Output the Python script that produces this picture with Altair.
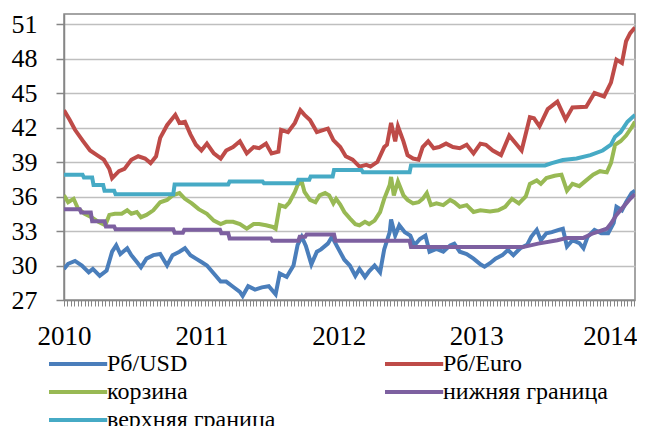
import altair as alt
import pandas as pd

# ---- data ----
series_names = ["Рб/USD", "Рб/Euro", "корзина", "нижняя граница", "верхняя граница"]
series_colors = ["#4A7EBB", "#BE4B48", "#98B954", "#7D60A0", "#46AAC5"]
# legend is filled column by column: this order gives the reference's row layout
legend_order = ["Рб/USD", "корзина", "верхняя граница", "Рб/Euro", "нижняя граница"]

year_labels = [2010, 2011, 2012, 2013, 2014]
y_ticks = [27, 30, 33, 36, 39, 42, 45, 48, 51]

usd_t = [2010.00, 2010.03, 2010.08, 2010.13, 2010.18, 2010.21, 2010.26, 2010.31, 2010.35, 2010.38,
         2010.41, 2010.46, 2010.49, 2010.53, 2010.56, 2010.60, 2010.65, 2010.70, 2010.75, 2010.79,
         2010.84, 2010.88, 2010.92, 2010.96, 2011.00, 2011.04, 2011.09, 2011.14, 2011.18, 2011.23,
         2011.28, 2011.30, 2011.34, 2011.39, 2011.44, 2011.49, 2011.54, 2011.57, 2011.62, 2011.67,
         2011.70, 2011.73, 2011.76, 2011.80, 2011.84, 2011.87, 2011.92, 2011.95, 2011.99, 2012.04,
         2012.08, 2012.12, 2012.15, 2012.19, 2012.22, 2012.26, 2012.30, 2012.33, 2012.37, 2012.38,
         2012.41, 2012.44, 2012.48, 2012.52, 2012.55, 2012.59, 2012.63, 2012.66, 2012.71, 2012.76,
         2012.81, 2012.84, 2012.88, 2012.93, 2012.98, 2013.03, 2013.06, 2013.10, 2013.14, 2013.19,
         2013.23, 2013.27, 2013.32, 2013.37, 2013.40, 2013.44, 2013.47, 2013.51, 2013.55, 2013.60,
         2013.63, 2013.66, 2013.70, 2013.75, 2013.78, 2013.81, 2013.86, 2013.91, 2013.96, 2014.00,
         2014.02, 2014.06, 2014.09, 2014.13, 2014.155]
usd_v = [29.7, 30.15, 30.4, 30.0, 29.4, 29.7, 29.1, 29.55, 31.2, 31.75,
         31.0, 31.5, 30.9, 30.3, 29.85, 30.6, 30.9, 31.0, 30.0, 30.9,
         31.2, 31.5, 30.9, 30.6, 30.3, 30.0, 29.3, 28.6, 28.6, 28.15,
         27.7, 27.35, 28.2, 27.9, 28.1, 28.2, 27.5, 29.3, 29.0, 30.0,
         31.8, 32.5, 31.7, 30.1, 31.2, 31.4, 31.9, 32.5, 31.6, 30.5,
         30.0, 29.1, 29.7, 29.0, 29.5, 30.0, 29.4, 31.4, 32.9, 34.0,
         32.6, 33.5, 32.9, 32.6, 31.75, 32.3, 32.6, 31.2, 31.45, 31.2,
         31.75, 31.9, 31.2, 31.0, 30.6, 30.1, 29.9, 30.2, 30.6, 30.9,
         31.35, 30.9, 31.5, 31.8, 32.5, 33.1, 32.2, 32.8, 32.9, 33.1,
         33.2, 31.65, 32.2, 31.95, 31.5, 32.5, 33.1, 32.8, 32.8, 33.7,
         35.1, 34.8, 35.5, 36.3, 36.5]

eur_t = [2010.00, 2010.04, 2010.08, 2010.14, 2010.19, 2010.24, 2010.29, 2010.33, 2010.35, 2010.40,
         2010.44, 2010.49, 2010.54, 2010.59, 2010.63, 2010.67, 2010.70, 2010.75, 2010.81, 2010.84,
         2010.88, 2010.92, 2010.96, 2011.00, 2011.04, 2011.09, 2011.14, 2011.18, 2011.23, 2011.28,
         2011.33, 2011.38, 2011.42, 2011.47, 2011.51, 2011.56, 2011.58, 2011.63, 2011.68, 2011.72,
         2011.75, 2011.79, 2011.84, 2011.89, 2011.92, 2011.96, 2012.01, 2012.05, 2012.10, 2012.15,
         2012.20, 2012.23, 2012.28, 2012.33, 2012.35, 2012.38, 2012.41, 2012.43, 2012.47, 2012.50,
         2012.54, 2012.58, 2012.61, 2012.65, 2012.69, 2012.73, 2012.78, 2012.83, 2012.88, 2012.93,
         2012.98, 2013.03, 2013.07, 2013.12, 2013.18, 2013.24, 2013.33, 2013.39, 2013.42, 2013.46,
         2013.52, 2013.59, 2013.65, 2013.70, 2013.80, 2013.86, 2013.93, 2013.98, 2014.02, 2014.06,
         2014.09, 2014.12, 2014.155]
eur_v = [43.5, 42.7, 41.8, 40.8, 40.0, 39.6, 39.2, 38.4, 37.6, 38.2,
         38.4, 39.2, 39.5, 39.3, 38.9, 39.5, 41.1, 42.2, 43.1, 42.4,
         42.5, 41.4, 40.5, 40.0, 40.6, 39.75, 39.3, 40.0, 40.3, 40.8,
         39.75, 40.3, 40.2, 40.6, 39.75, 39.9, 41.8, 41.6, 42.4, 43.5,
         43.1, 42.65, 41.6, 41.8, 41.9, 40.9, 40.3, 39.5, 39.2, 38.6,
         38.75, 38.6, 39.0, 40.3, 40.5, 42.4, 40.8, 42.1, 40.8, 39.6,
         39.3, 39.2, 40.3, 40.8, 40.2, 40.3, 40.6, 40.3, 40.2, 40.5,
         39.75, 40.6, 40.5, 40.0, 39.6, 41.3, 40.0, 42.9, 42.8, 42.1,
         43.6, 44.25, 42.7, 43.75, 43.8, 45.0, 44.7, 45.9, 47.9, 47.6,
         49.5, 50.2, 50.7]

bsk_t = [2010.00, 2010.03, 2010.07, 2010.10, 2010.15, 2010.20, 2010.25, 2010.30, 2010.33, 2010.37,
         2010.42, 2010.46, 2010.49, 2010.53, 2010.56, 2010.60, 2010.65, 2010.70, 2010.75, 2010.79,
         2010.84, 2010.88, 2010.93, 2010.98, 2011.04, 2011.09, 2011.14, 2011.18, 2011.23, 2011.28,
         2011.33, 2011.38, 2011.42, 2011.47, 2011.52, 2011.54, 2011.57, 2011.61, 2011.64, 2011.68,
         2011.70, 2011.73, 2011.75, 2011.79, 2011.83, 2011.86, 2011.90, 2011.93, 2011.96, 2011.98,
         2012.01, 2012.04, 2012.08, 2012.12, 2012.15, 2012.19, 2012.22, 2012.26, 2012.30, 2012.33,
         2012.37, 2012.38, 2012.40, 2012.43, 2012.47, 2012.50, 2012.54, 2012.58, 2012.61, 2012.64,
         2012.67, 2012.71, 2012.76, 2012.81, 2012.84, 2012.88, 2012.93, 2012.98, 2013.03, 2013.10,
         2013.16, 2013.21, 2013.26, 2013.31, 2013.36, 2013.39, 2013.44, 2013.47, 2013.51, 2013.57,
         2013.62, 2013.66, 2013.70, 2013.75, 2013.80, 2013.85, 2013.90, 2013.95, 2013.98, 2014.01,
         2014.05, 2014.09, 2014.13, 2014.155]
bsk_v = [36.1, 35.5, 35.8, 35.0, 34.5, 34.2, 33.8, 33.5, 34.4, 34.5,
         34.5, 34.8, 34.5, 34.65, 34.2, 34.4, 34.8, 35.5, 35.7, 36.1,
         36.3, 35.8, 35.4, 34.9, 34.5, 33.9, 33.6, 33.8, 33.8, 33.6,
         33.2, 33.6, 33.6, 33.5, 33.35, 33.2, 35.25, 35.1, 35.5, 36.4,
         37.0, 37.3, 36.4, 35.7, 35.5, 36.1, 36.3, 36.1, 35.4, 35.8,
         35.3, 34.65, 34.1, 33.6, 33.5, 33.8, 33.6, 33.9, 34.65, 35.8,
         37.0, 37.7, 36.1, 37.3, 36.1, 35.7, 35.4, 35.5, 35.8, 36.3,
         35.25, 35.4, 35.25, 35.7, 35.5, 35.1, 35.25, 34.65, 34.8, 34.7,
         34.8, 35.1, 35.8, 35.4, 36.0, 37.1, 37.4, 37.1, 37.6, 37.8,
         37.9, 36.5, 37.1, 36.9, 37.4, 37.9, 38.2, 38.1, 38.9, 40.5,
         40.8, 41.3, 42.0, 42.5]

low_t = [2010.00, 2010.115, 2010.125, 2010.195, 2010.205, 2010.295, 2010.305, 2010.365, 2010.375, 2010.795,
         2010.805, 2010.865, 2010.875, 2011.135, 2011.145, 2011.195, 2011.205, 2011.505, 2011.515, 2011.705,
         2011.715, 2011.755, 2011.765, 2011.965, 2011.975, 2012.515, 2012.525, 2013.34, 2013.45, 2013.59,
         2013.66, 2013.78, 2013.85, 2013.95, 2013.98, 2014.02, 2014.07, 2014.12, 2014.155]
low_v = [34.9, 34.9, 34.6, 34.6, 33.85, 33.85, 33.4, 33.4, 33.15, 33.15,
         32.85, 32.85, 33.1, 33.1, 32.8, 32.8, 32.35, 32.35, 32.15, 32.15,
         32.5, 32.5, 32.7, 32.7, 32.15, 32.15, 31.6, 31.6, 31.9, 32.2,
         32.4, 32.4, 32.8, 33.2, 33.65, 34.4, 35.1, 35.8, 36.2]

up_t = [2010.00, 2010.135, 2010.145, 2010.205, 2010.215, 2010.285, 2010.295, 2010.365, 2010.375, 2010.795,
        2010.805, 2011.195, 2011.205, 2011.445, 2011.455, 2011.695, 2011.705, 2011.785, 2011.795, 2011.955,
        2011.965, 2012.165, 2012.175, 2012.515, 2012.525, 2013.50, 2013.55, 2013.63, 2013.73, 2013.83,
        2013.92, 2013.98, 2014.01, 2014.05, 2014.10, 2014.155]
up_v = [37.9, 37.9, 37.65, 37.65, 37.0, 37.0, 36.5, 36.5, 36.2, 36.2,
        37.05, 37.05, 37.3, 37.3, 37.15, 37.15, 37.45, 37.45, 37.75, 37.75,
        38.3, 38.3, 38.1, 38.1, 38.7, 38.7, 38.9, 39.17, 39.3, 39.6,
        40.0, 40.5, 41.2, 41.6, 42.5, 43.1]

# ---- build the long table ----
frames = []
for name, ts, vs in zip(series_names,
                        [usd_t, eur_t, bsk_t, low_t, up_t],
                        [usd_v, eur_v, bsk_v, low_v, up_v]):
    frames.append(pd.DataFrame({"t": ts, "v": vs, "series": name}))
df = pd.concat(frames, ignore_index=True)
df["order"] = df["series"].map({n: i for i, n in enumerate(series_names)})

color_of = dict(zip(series_names, series_colors))
x_tick_values = [round(2010 + i * 0.025, 4) for i in range(167)]

FONT = "Liberation Serif, 'Times New Roman', Times, serif"
GRID = "#BFBFBF"
FRAME = "#868686"

chart = alt.Chart(df).mark_line(strokeWidth=4, clip=True).encode(
    x=alt.X("t:Q",
            scale=alt.Scale(domain=[2010, 2014.155], nice=False, zero=False),
            axis=alt.Axis(values=x_tick_values, title=None, grid=False,
                          labelExpr="abs(datum.value - round(datum.value)) < 0.001 ? format(datum.value, 'd') : ''",
                          labelOverlap=False, labelFlush=False,
                          labelOffset={"condition": {"test": "datum.value > 2013.5", "value": -4}, "value": 0},
                          labelFont=FONT, labelFontSize=27, labelColor="black",
                          labelPadding=17, tickSize=6, tickColor=FRAME, tickWidth=1,
                          domainColor=FRAME, domainWidth=1.5)),
    y=alt.Y("v:Q",
            scale=alt.Scale(domain=[27, 51.87], nice=False, zero=False),
            axis=alt.Axis(values=y_ticks, title=None, grid=True, gridColor=GRID, gridWidth=1.5,
                          labelFont=FONT, labelFontSize=26, labelColor="black",
                          labelPadding=19, tickSize=8, tickColor=FRAME, tickWidth=1.5,
                          domainColor=FRAME, domainWidth=1.5, labelFlush=False)),
    color=alt.Color("series:N",
                    scale=alt.Scale(domain=legend_order, range=[color_of[n] for n in legend_order]),
                    legend=alt.Legend(title=None, orient="none", legendX=-17, legendY=336,
                                      columns=2, columnPadding=101, rowPadding=2,
                                      symbolType="M-1,0H3.85", symbolSize=576, symbolStrokeWidth=4,
                                      labelFont=FONT, labelFontSize=24, labelColor="black",
                                      labelLimit=400, labelOffset=32, padding=0)),
    order=alt.Order("order:Q"),
    detail="series:N",
).properties(
    width=571, height=286,
    autosize=alt.AutoSizeParams(type="none"),
    padding={"left": 56, "top": 6, "right": 2, "bottom": 126},
    background="white",
).configure_view(
    stroke=FRAME, strokeWidth=1.5
)

chart.save("out.html", embed_options={"renderer": "svg", "actions": False})
